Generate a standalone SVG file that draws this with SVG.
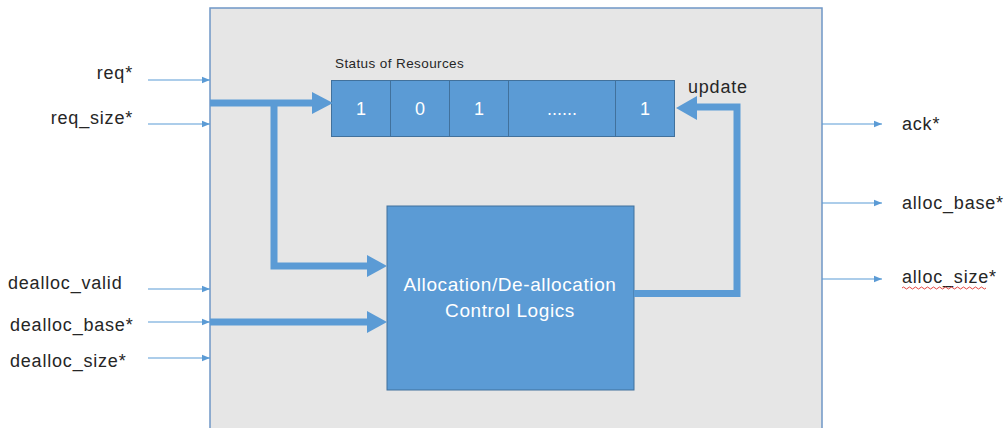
<svg xmlns="http://www.w3.org/2000/svg" width="1008" height="428" viewBox="0 0 1008 428">
  <defs>
    <marker id="thin" viewBox="0 0 8 8" refX="8" refY="4" markerWidth="8" markerHeight="8" markerUnits="userSpaceOnUse" orient="auto">
      <path d="M0,0.8 L8,4 L0,7.2 Z" fill="#5b9bd5"/>
    </marker>
  </defs>
  <style>
    .lbl { font-family: "Liberation Sans", Arial, sans-serif; font-size: 18px; letter-spacing: 0.8px; fill: #262626; }
    .cell { fill: #5b9bd5; stroke: #41719c; stroke-width: 1; }
    .val { font-family: "Liberation Sans", Arial, sans-serif; font-size: 18px; fill: #ffffff; text-anchor: middle; }
    .ctl { font-family: "Liberation Sans", Arial, sans-serif; font-size: 19px; letter-spacing: 0.6px; fill: #ffffff; text-anchor: middle; }
    .sig { stroke: #5b9bd5; stroke-width: 1.2; fill: none; marker-end: url(#thin); }
    .bus { stroke: #5b9bd5; stroke-width: 7; fill: none; stroke-linejoin: miter; }
    .head { fill: #5b9bd5; }
  </style>

  <rect width="1008" height="428" fill="#ffffff"/>

  <!-- module boundary -->
  <g id="module">
    <rect x="210" y="8" width="612" height="430" fill="#e6e6e6" stroke="#6f97c6" stroke-width="1.5"/>
  </g>

  <!-- status register -->
  <g id="status">
    <text x="335" y="68" font-family="'Liberation Sans', Arial, sans-serif" font-size="13.5" letter-spacing="0.4" fill="#262626">Status of Resources</text>
    <rect class="cell" x="331.5" y="80.5" width="59" height="56"/>
    <rect class="cell" x="390.5" y="80.5" width="59" height="56"/>
    <rect class="cell" x="449.5" y="80.5" width="59" height="56"/>
    <rect class="cell" x="508.5" y="80.5" width="107" height="56"/>
    <rect class="cell" x="615.5" y="80.5" width="59" height="56"/>
    <text class="val" x="361" y="115">1</text>
    <text class="val" x="420" y="115">0</text>
    <text class="val" x="479" y="115">1</text>
    <text class="val" x="562" y="115" font-size="16">......</text>
    <text class="val" x="645" y="115">1</text>
  </g>

  <!-- control block -->
  <g id="control">
    <rect x="387" y="206" width="247" height="184" fill="#5b9bd5" stroke="#41719c" stroke-width="1"/>
    <text class="ctl" x="510" y="291">Allocation/De-allocation</text>
    <text class="ctl" x="510" y="317">Control Logics</text>
  </g>

  <!-- inputs -->
  <g id="in-req">
    <text class="lbl" x="133" y="79" text-anchor="end">req*</text>
  </g>
  <g id="in-req-size">
    <text class="lbl" x="133" y="124" text-anchor="end">req_size*</text>
  </g>
  <g id="in-dealloc-valid">
    <text class="lbl" x="8" y="289">dealloc_valid</text>
  </g>
  <g id="in-dealloc-base">
    <text class="lbl" x="10" y="331">dealloc_base*</text>
  </g>
  <g id="in-dealloc-size">
    <text class="lbl" x="10" y="367">dealloc_size*</text>
  </g>

  <!-- outputs -->
  <g id="out-ack">
    <text class="lbl" x="902" y="130">ack*</text>
  </g>
  <g id="out-alloc-base">
    <text class="lbl" x="902" y="209">alloc_base*</text>
  </g>
  <g id="out-alloc-size">
    <text class="lbl" x="902" y="283">alloc_size*</text>
    <path d="M902,288 q1.5,-2 3,0 t3,0 t3,0 t3,0 t3,0 t3,0 t3,0 t3,0 t3,0 t3,0 t3,0 t3,0 t3,0 t3,0 t3,0 t3,0 t3,0 t3,0 t3,0 t3,0 t3,0 t3,0 t3,0 t3,0 t3,0 t3,0 t3,0 t3,0" fill="none" stroke="#e0302a" stroke-width="0.9"/>
  </g>

  <g id="update-label">
    <text class="lbl" x="688" y="93" font-size="19" letter-spacing="0.6">update</text>
  </g>

  <!-- connectors -->
  <g id="connectors">
    <!-- single-bit signals -->
    <line class="sig" x1="148" y1="80" x2="210" y2="80"/>
    <line class="sig" x1="148" y1="124" x2="210" y2="124"/>
    <line class="sig" x1="148" y1="289" x2="210" y2="289"/>
    <line class="sig" x1="148" y1="322" x2="210" y2="322"/>
    <line class="sig" x1="148" y1="358" x2="210" y2="358"/>
    <line class="sig" x1="822" y1="124" x2="882" y2="124"/>
    <line class="sig" x1="822" y1="203" x2="882" y2="203"/>
    <line class="sig" x1="822" y1="279" x2="882" y2="279"/>

    <!-- request bus to status and control -->
    <path class="bus" d="M210,103 L313,103"/>
    <polygon class="head" points="312,92 333,103 312,114"/>
    <path class="bus" d="M274,103 L274,266 L368,266"/>
    <polygon class="head" points="367,255 387,266 367,277"/>

    <!-- dealloc base bus -->
    <path class="bus" d="M210,322 L368,322"/>
    <polygon class="head" points="367,311 387,322 367,333"/>

    <!-- update feedback -->
    <path class="bus" d="M634,293.5 L737,293.5 L737,107 L697,107"/>
    <polygon class="head" points="697,96 676,108 697,120"/>
  </g>
</svg>
